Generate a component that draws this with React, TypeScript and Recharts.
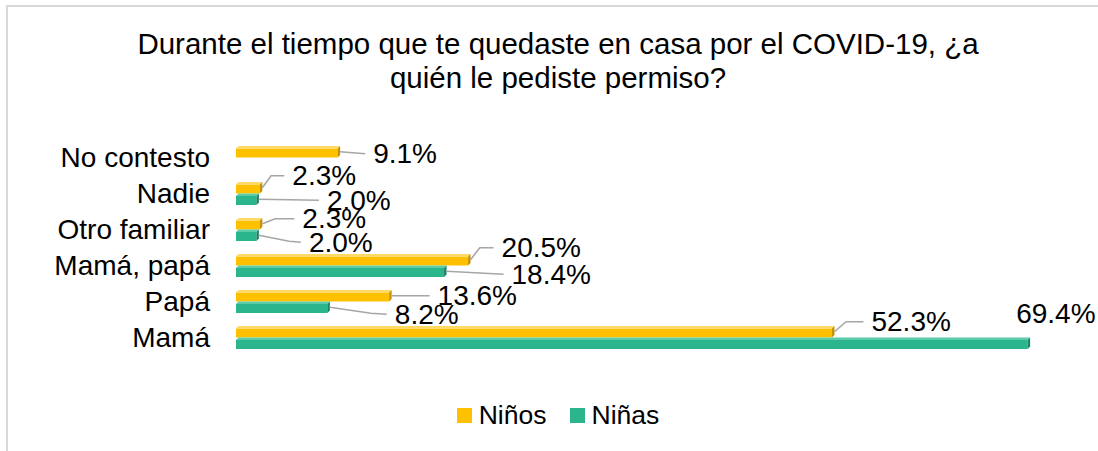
import { BarChart, Bar, XAxis, YAxis, Legend, LabelList } from "recharts";

const categories = ["No contesto", "Nadie", "Otro familiar", "Mamá, papá", "Papá", "Mamá"];
const ninos = [9.1, 2.3, 2.3, 20.5, 13.6, 52.3];
const ninas = [0, 2.0, 2.0, 18.4, 8.2, 69.4]; // "No contesto" has no Niñas bar

const data = categories.map((name, i) => ({ name, ninos: ninos[i], ninas: ninas[i] }));
const seriesOrder = ["ninos", "ninas"];

// where each label text sits relative to the end of its bar [dx, dy]
const ninosLabelPos = [[33, 2], [30, -12], [40, -5], [31, -12], [46, 0], [37, -10]];
const ninasLabelPos = [[0, 0], [68, 1], [50, 7], [65, 3], [65, 7], [-14, -30]];
const noLeader = [false, false, false, false, false, true];

const FONT = '"Liberation Sans", Arial, sans-serif';
const YELLOW = "#FFC000";
const GREEN = "#2BB58C";

function shade(kind: "ninos" | "ninas") {
  return kind === "ninos"
    ? { top: "#FFD965", side: "#C49200" }
    : { top: "#5CCBA9", side: "#1C8466" };
}

function make3dBar(kind: "ninos" | "ninas") {
  return (props: any) => {
    const { x, y, width, height, fill } = props;
    if (!width || width <= 0) return <g />;
    const d = 2.5;
    const s = shade(kind);
    return (
      <g>
        <rect x={x} y={y + d} width={Math.max(width - d, 0)} height={height - d} fill={fill} />
        <polygon
          points={`${x},${y + d} ${x + d},${y} ${x + width},${y} ${x + width - d},${y + d}`}
          fill={s.top}
        />
        <polygon
          points={`${x + width - d},${y + d} ${x + width},${y} ${x + width},${y + height - d} ${x + width - d},${y + height}`}
          fill={s.side}
        />
      </g>
    );
  };
}

function makeLabel(pos: number[][], skipLeader: boolean[] | null) {
  return (props: any) => {
    const { x, y, width, height, value, index } = props;
    if (value == null || value === 0) return null;
    const ex = x + width;
    const ey = y + height / 2;
    const [dx, dy] = pos[index];
    const tx = ex + dx;
    const ty = ey + dy;
    let leader = null;
    if (!(skipLeader && skipLeader[index])) {
      const endX = tx - 8;
      let pts: string;
      if (dy < -3) {
        const mx = ex + (endX - ex) * 0.4;
        pts = `${ex},${ey} ${mx},${ty} ${endX},${ty}`;
      } else if (dy > 3) {
        const mx = ex + (endX - ex) * 0.72;
        pts = `${ex},${ey} ${mx},${ty - 1} ${endX},${ty}`;
      } else {
        pts = `${ex},${ey} ${endX},${ty}`;
      }
      leader = <polyline points={pts} fill="none" stroke="#A6A6A6" strokeWidth={1.6} />;
    }
    return (
      <g>
        {leader}
        <text
          x={tx}
          y={ty}
          dominantBaseline="central"
          fontFamily={FONT}
          fontSize={28}
          fill="#000"
        >
          {Number(value).toFixed(1)}%
        </text>
      </g>
    );
  };
}

function LegendContent(props: any) {
  const items = [...(props.payload || [])].sort(
    (a: any, b: any) => seriesOrder.indexOf(a.dataKey) - seriesOrder.indexOf(b.dataKey)
  );
  return (
    <div style={{ display: "flex", justifyContent: "center", alignItems: "center", fontFamily: FONT }}>
      {items.map((p: any, i: number) => (
        <div key={i} style={{ display: "flex", alignItems: "center", marginRight: i === 0 ? 23 : 0 }}>
          <div style={{ width: 15, height: 15, background: p.color, marginRight: 7 }} />
          <span style={{ fontSize: 26.5, color: "#000" }}>{p.value}</span>
        </div>
      ))}
    </div>
  );
}

export default function App() {
  return (
    <div
      style={{
        position: "absolute",
        left: 0,
        top: 0,
        width: 1098,
        height: 451,
        background: "#fff",
        overflow: "hidden",
        fontFamily: FONT,
      }}
    >
      <div
        style={{
          position: "absolute",
          left: 6,
          top: 5,
          width: 1200,
          height: 500,
          borderTop: "2px solid #D9D9D9",
          borderLeft: "2px solid #D9D9D9",
        }}
      />
      <div
        style={{
          position: "absolute",
          left: 0,
          top: 27,
          width: 1116,
          textAlign: "center",
          fontSize: 29.5,
          lineHeight: "34px",
          color: "#000",
        }}
      >
        Durante el tiempo que te quedaste en casa por el COVID-19, ¿a
        <br />
        quién le pediste permiso?
      </div>
      <div style={{ position: "absolute", left: 0, top: 0 }}>
        <BarChart
          width={1098}
          height={451}
          data={data}
          layout="vertical"
          margin={{ top: 139, bottom: 96, left: 0, right: 61 }}
          barGap={0}
          barSize={11.5}
        >
          <XAxis type="number" domain={[0, 70]} hide />
          <YAxis
            type="category"
            dataKey="name"
            width={236}
            axisLine={false}
            tickLine={false}
            tickSize={0}
            tickMargin={26}
            tick={{ fill: "#000", fontSize: 28, fontFamily: FONT }}
            interval={0}
          />
          <Legend
            verticalAlign="bottom"
            align="center"
            content={<LegendContent />}
            wrapperStyle={{ top: 400, left: 0, width: 1116, height: 0, overflow: "visible" }}
          />
          <Bar dataKey="ninos" name="Niños" fill={YELLOW} shape={make3dBar("ninos")} isAnimationActive={false}>
            <LabelList dataKey="ninos" content={makeLabel(ninosLabelPos, null)} />
          </Bar>
          <Bar dataKey="ninas" name="Niñas" fill={GREEN} shape={make3dBar("ninas")} isAnimationActive={false}>
            <LabelList dataKey="ninas" content={makeLabel(ninasLabelPos, noLeader)} />
          </Bar>
        </BarChart>
      </div>
    </div>
  );
}
